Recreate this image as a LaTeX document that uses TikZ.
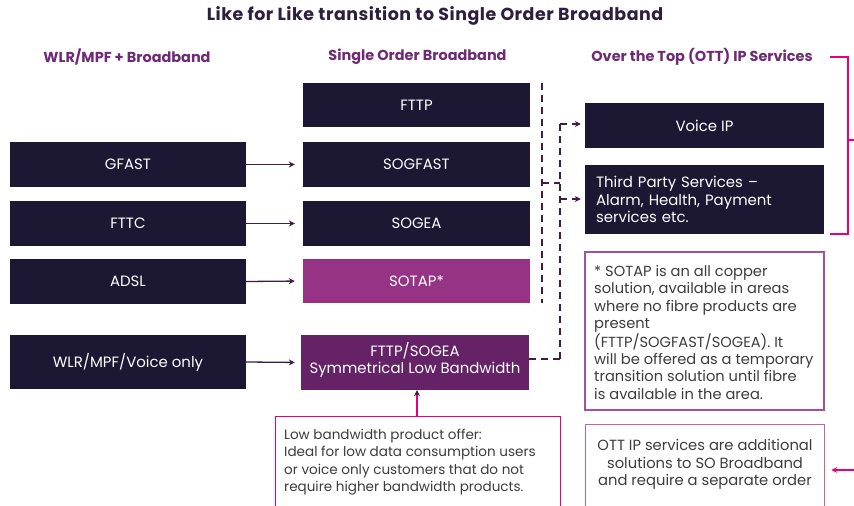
\documentclass[tikz,border=0pt]{standalone}
\usepackage{fontspec}
\setmainfont{Poppins}
\newfontfamily\titlefont{Poppins}[LetterSpace=3]
\usetikzlibrary{arrows.meta}
\definecolor{navy}{HTML}{1C1834}
\definecolor{sotap}{HTML}{963384}
\definecolor{lowbw}{HTML}{662266}
\definecolor{hdr}{HTML}{6E2A75}
\definecolor{ttl}{HTML}{2D1F3D}
\definecolor{pinkc}{HTML}{E6007E}
\definecolor{notec}{HTML}{A3509D}
\definecolor{ottc}{HTML}{B866B0}
\definecolor{arr}{HTML}{3D1F3D}
\definecolor{bodyt}{HTML}{3C3C3C}
\tikzset{
  boxfont/.style={font=\fontsize{15}{17}\selectfont},
  dbox/.style={boxfont, fill=navy, text=white, inner sep=0pt, minimum width=236bp, minimum height=45bp, align=center},
  mbox/.style={dbox, minimum width=227bp},
  hdrtext/.style={font=\fontsize{14.5}{17}\selectfont\bfseries, text=hdr, inner sep=0pt},
  bodytext/.style={font=\fontsize{14.7}{17.45}\selectfont, text=bodyt, inner sep=0pt},
  connarrow/.style={draw=arr, line width=1.3pt, -{Stealth[length=6bp,width=6bp]}},
  dashline/.style={draw=arr, line width=1.3pt, dash pattern=on 7bp off 5bp},
  pinkline/.style={draw=pinkc, line width=1.3pt},
}
\begin{document}
\begin{tikzpicture}[x=1bp,y=-1bp]
\useasboundingbox (0,0) rectangle (854,506);
\clip (0,0) rectangle (854,506);
% title and headers
\node[font=\titlefont\fontsize{17.5}{20}\selectfont\bfseries, text=ttl, inner sep=0pt] (title) at (435,16) {Like for Like transition to Single Order Broadband};
\node[hdrtext] (h1) at (127,57) {WLR/MPF + Broadband};
\node[hdrtext] (h2) at (417.5,57) {Single Order Broadband};
\node[hdrtext] (h3) at (702,57) {Over the Top (OTT) IP Services};
% left column
\node[dbox] (gfast) at (128,164.5) {GFAST};
\node[dbox] (fttc) at (128,223.5) {FTTC};
\node[dbox] (adsl) at (128,281.5) {ADSL};
\node[dbox, minimum height=54bp] (wlr) at (128,362) {WLR/MPF/Voice only};
% middle column
\node[mbox, minimum height=44bp] (fttp) at (416.5,105) {FTTP};
\node[mbox] (sogfast) at (416.5,164.5) {SOGFAST};
\node[mbox] (sogea) at (416.5,223.5) {SOGEA};
\node[mbox, fill=sotap, minimum height=44bp] (sotap) at (416.5,281) {SOTAP*};
\node[mbox, fill=lowbw, minimum width=228bp, minimum height=55bp] (lowbwbox) at (415,362.5) {};
\node[font=\fontsize{15}{17}\selectfont, text=white, align=center, inner sep=0pt] (lowbwtext) at (415,360) {FTTP/SOGEA\\Symmetrical Low Bandwidth};
% right column
\node[dbox, minimum width=239bp] (voip) at (704.5,125.5) {Voice IP};
\node[dbox, minimum width=239bp, minimum height=69bp, align=left, text width=217bp, font=\fontsize{15}{17.5}\selectfont] (third) at (704.5,199.5) {Third Party Services –\\Alarm, Health, Payment\\services etc.};
\node[draw=notec, line width=1.3pt, minimum width=239bp, minimum height=158bp, inner sep=0pt] (sotapnote) at (704.5,331) {};
\node[bodytext, align=left, anchor=north west] (sotaptext) at (594,265) {* SOTAP is an all copper\\solution, available in areas\\where no fibre products are\\present\\(FTTP/SOGFAST/SOGEA). It\\will be offered as a temporary\\transition solution until fibre\\is available in the area.};
\node[draw=ottc, line width=1.3pt, minimum width=239bp, minimum height=110bp, inner sep=0pt, anchor=north west] (ottnote) at (585,424) {};
\node[bodytext, align=center, font=\fontsize{14.8}{17.5}\selectfont] (otttext) at (705,464.5) {OTT IP services are additional\\solutions to SO Broadband\\and require a separate order};
\node[draw=pinkc, line width=1.3pt, minimum width=285bp, minimum height=110bp, inner sep=0pt, anchor=north west] (lownote) at (275,416) {};
\node[bodytext, align=left, anchor=north west, font=\fontsize{13.6}{17.65}\selectfont] (lowtext) at (284,428.5) {Low bandwidth product offer:\\Ideal for low data consumption users\\or voice only customers that do not\\require higher bandwidth products.};
% connectors left to middle
\draw[connarrow, shorten >=8bp] (gfast.east) -- (sogfast.west);
\draw[connarrow, shorten >=8bp] (fttc.east) -- (sogea.west);
\draw[connarrow, shorten >=8bp] (adsl.east) -- (sotap.west);
\draw[connarrow, shorten >=6bp] (wlr.east) -- (lowbwbox.west);
% dashed connectors
\coordinate (d1top) at (542,83);
\coordinate (d1bot) at (542,303);
\coordinate (d1mid) at (542,183);
\coordinate (d2mid) at (560,183);
\coordinate (d2top) at (560,124);
\coordinate (d2third) at (560,199);
\coordinate (d2bot) at (560,359);
\draw[dashline] (d1top) -- (d1bot);
\draw[dashline] (d1mid) -- (d2mid);
\draw[dashline] (d2top) -- (d2bot);
\draw[dashline] (lowbwbox.east |- d2bot) -- (d2bot);
\draw[dashline, -{Stealth[length=6bp,width=6bp]}, shorten >=4bp] (d2top) -- (voip.west |- d2top);
\draw[dashline, -{Stealth[length=6bp,width=6bp]}, shorten >=4bp] (d2third) -- (third.west |- d2third);
% up arrow from low bandwidth note
\draw[pinkline, -{Stealth[length=6bp,width=6bp,color=arr]}] (lownote.north -| 417,0) -- (lowbwbox.south -| 417,0);
% pink bracket
\coordinate (brtl) at (830,57);
\coordinate (brtr) at (848,57);
\coordinate (brbl) at (830,234);
\coordinate (brmid) at (848,140);
\coordinate (brout) at (856,140);
\draw[pinkline] (brtl) -- (brtr) |- (brbl);
\draw[pinkline] (brmid) -- (brout);
\coordinate (inarr) at (856,470);
\draw[pinkline, -{Stealth[length=6bp,width=6bp]}, shorten >=6bp] (inarr) -- (ottnote.east |- inarr);
\end{tikzpicture}
\end{document}
